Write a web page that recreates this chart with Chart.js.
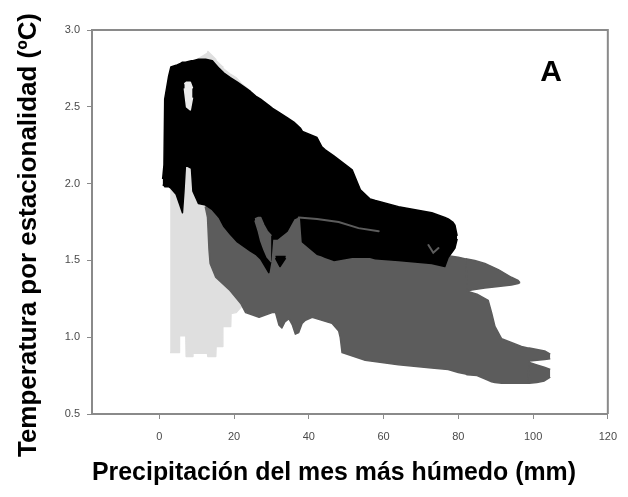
<!DOCTYPE html>
<html>
<head>
<meta charset="utf-8">
<script src="https://cdn.jsdelivr.net/npm/chart.js@4.4.1/dist/chart.umd.min.js"></script>
<style>
  html, body { margin: 0; padding: 0; background: #fff; }
  canvas { display: block; }
</style>
</head>
<body>
<canvas id="c" width="628" height="497"></canvas>
<script>
// Axis ticks
const xTicks = [0, 20, 40, 60, 80, 100, 120];
const yTicks = [0.5, 1.0, 1.5, 2.0, 2.5, 3.0];

// Light gray cloud: outline as lower / upper envelope per precipitation value
const lightX      = [2.9, 5.3, 5.4, 7.1, 7.2, 8.9, 9.0, 12.9, 13.0, 15.1, 15.2, 16.9, 17.0, 19.1, 19.2, 20.5, 22.0, 24.0];
const lightTop    = [2.10, 2.35, 2.36, 2.70, 2.71, 2.78, 2.79, 2.85, 2.86, 2.81, 2.80, 2.76, 2.75, 2.71, 2.71, 2.69, 2.65, 2.61];
const lightBottom = [0.90, 0.90, 1.01, 1.01, 0.875, 0.875, 0.895, 0.895, 0.875, 0.875, 0.94, 0.94, 1.07, 1.07, 1.155, 1.16, 1.20, 1.30];

// Dark gray cloud (main body, upper and lower right lobes)
const darkX      = [12.3, 12.9, 13.3, 13.6, 15.1, 18.7, 21.8, 23.1, 26.7, 30.2, 31.1, 32.0, 32.8, 33.6, 34.7, 35.6, 36.4, 37.3, 38.2, 39.1, 40.9, 46.2, 48.0, 48.4, 48.9, 55.1, 64.0, 72.9, 77.3, 80.0, 82.0, 82.4, 85.0, 88.0, 88.9, 89.8, 91.6, 96.9, 98.6, 99.0, 103.1, 104.6];
const darkTop    = [1.86, 1.86, 1.86, 1.86, 1.85, 1.80, 1.78, 1.78, 1.80, 1.80, 1.80, 1.80, 1.80, 1.80, 1.80, 1.80, 1.80, 1.80, 1.80, 1.79, 1.78, 1.75, 1.74, 1.74, 1.74, 1.71, 1.65, 1.57, 1.53, 1.52, 1.51, 1.30, 1.28, 1.24, 1.16, 1.07, 0.99, 0.94, 0.93, 0.93, 0.91, 0.89];
const darkBottom = [1.85, 1.78, 1.57, 1.48, 1.39, 1.31, 1.22, 1.16, 1.13, 1.16, 1.16, 1.08, 1.06, 1.10, 1.12, 1.08, 1.02, 1.03, 1.09, 1.11, 1.13, 1.09, 1.04, 1.00, 0.90, 0.85, 0.82, 0.80, 0.79, 0.77, 0.76, 0.755, 0.75, 0.72, 0.71, 0.705, 0.70, 0.70, 0.70, 0.845, 0.855, 0.86];

const darkUpperX      = [82.0, 84.4, 87.1, 90.7, 94.2, 96.0, 96.5];
const darkUpperTop    = [1.51, 1.50, 1.48, 1.44, 1.39, 1.37, 1.355];
const darkUpperBottom = [1.30, 1.31, 1.32, 1.33, 1.34, 1.35, 1.355];

const darkLowerX      = [97.0, 99.0, 101.0, 103.0, 104.6];
const darkLowerTop    = [0.84, 0.835, 0.82, 0.805, 0.79];
const darkLowerBottom = [0.70, 0.70, 0.705, 0.715, 0.74];

// Black cloud
const blackX      = [0.9, 1.25, 1.45, 2.5, 3.1, 4.5, 5.5, 6.2, 6.6, 7.0, 8.6, 9.0, 10.5, 12.4, 14.2, 16.0, 17.3, 19.0, 20.9, 24.4, 25.8, 27.1, 29.3, 29.8, 30.3, 31.6, 34.2, 36.0, 37.8, 38.3, 42.2, 43.5, 44.4, 46.7, 51.6, 53.8, 56.4, 57.8, 64.0, 72.9, 76.4, 77.3, 78.5, 79.1, 79.7];
const blackTop    = [2.03, 2.12, 2.55, 2.70, 2.76, 2.77, 2.78, 2.79, 2.79, 2.79, 2.80, 2.80, 2.81, 2.81, 2.80, 2.75, 2.72, 2.69, 2.66, 2.60, 2.57, 2.55, 2.51, 2.50, 2.49, 2.47, 2.43, 2.40, 2.36, 2.34, 2.30, 2.24, 2.22, 2.18, 2.09, 1.96, 1.90, 1.89, 1.85, 1.81, 1.78, 1.77, 1.75, 1.73, 1.66];
const blackBottom = [1.99, 1.99, 1.98, 1.98, 1.97, 1.93, 1.86, 1.81, 1.95, 2.12, 2.10, 1.95, 1.87, 1.86, 1.83, 1.78, 1.72, 1.67, 1.62, 1.56, 1.54, 1.51, 1.42, 1.49, 1.64, 1.64, 1.69, 1.77, 1.79, 1.62, 1.54, 1.53, 1.52, 1.50, 1.52, 1.52, 1.52, 1.51, 1.50, 1.48, 1.46, 1.52, 1.56, 1.58, 1.64];

// Black fleck inside the dark gray cloud
const fleckX      = [31.1, 32.3, 33.8];
const fleckTop    = [1.525, 1.525, 1.525];
const fleckBottom = [1.515, 1.46, 1.515];

// Opening in the black cloud where the light gray shows through
const gapX      = [6.7, 7.3, 8.3, 8.9];
const gapTop    = [2.65, 2.66, 2.66, 2.62];
const gapBottom = [2.62, 2.50, 2.48, 2.56];

// Dark gray pocket cut into the black cloud
const pocketX      = [25.6, 26.5, 27.1, 28.0, 28.9, 30.0];
const pocketTop    = [1.77, 1.78, 1.78, 1.73, 1.69, 1.66];
const pocketBottom = [1.76, 1.69, 1.63, 1.57, 1.52, 1.49];

// Thin dark gray seams across the black cloud
const seamX = [37.3, 42.2, 48.0, 53.3, 58.7];
const seamY = [1.78, 1.77, 1.75, 1.71, 1.69];
const nickX = [72.0, 73.3, 74.7];
const nickY = [1.60, 1.55, 1.58];

const LIGHT = '#dfdfdf';
const DARK = '#5c5c5c';
const BLACK = '#000000';
const AXIS = '#8a8a8a';

function pts(xs, ys) {
  return xs.map((x, i) => ({ x: x, y: ys[i] }));
}

// Two line datasets per region: lower edge, then upper edge filled down to it
function band(xs, top, bottom, color, order) {
  const common = {
    borderColor: color,
    backgroundColor: color,
    borderWidth: 1.5,
    borderJoinStyle: 'round',
    pointRadius: 0,
    tension: 0,
    order: order
  };
  return [
    Object.assign({ data: pts(xs, bottom), fill: false }, common),
    Object.assign({ data: pts(xs, top), fill: '-1' }, common)
  ];
}

function seam(xs, ys, color, width, order) {
  return {
    data: pts(xs, ys),
    borderColor: color,
    borderWidth: width,
    pointRadius: 0,
    fill: false,
    tension: 0,
    borderCapStyle: 'round',
    order: order
  };
}

const datasets = [].concat(
  band(lightX, lightTop, lightBottom, LIGHT, 50),
  band(darkX, darkTop, darkBottom, DARK, 40),
  band(darkUpperX, darkUpperTop, darkUpperBottom, DARK, 40),
  band(darkLowerX, darkLowerTop, darkLowerBottom, DARK, 40),
  band(blackX, blackTop, blackBottom, BLACK, 30),
  band(fleckX, fleckTop, fleckBottom, BLACK, 30),
  band(gapX, gapTop, gapBottom, '#ececec', 20),
  band(pocketX, pocketTop, pocketBottom, DARK, 20),
  [seam(seamX, seamY, DARK, 2, 10), seam(nickX, nickY, DARK, 2, 10)]
);

function stretchedText(ctx, text, width) {
  const w = ctx.measureText(text).width;
  ctx.scale(width / w, 1);
  ctx.fillText(text, 0, 0);
}

const decorations = {
  id: 'decorations',
  afterDraw(chart) {
    const ctx = chart.ctx;
    const a = chart.chartArea;
    ctx.save();
    // closing frame on top and right
    ctx.strokeStyle = AXIS;
    ctx.lineWidth = 2;
    ctx.beginPath();
    ctx.moveTo(a.left, a.top);
    ctx.lineTo(a.right, a.top);
    ctx.lineTo(a.right, a.bottom);
    ctx.stroke();

    ctx.fillStyle = '#000';
    ctx.textAlign = 'center';
    ctx.textBaseline = 'alphabetic';

    // x axis title
    ctx.save();
    ctx.font = 'bold 25px "Liberation Sans", Arial, sans-serif';
    ctx.translate(334, 480);
    stretchedText(ctx, 'Precipitación del mes más húmedo (mm)', 484);
    ctx.restore();

    // y axis title
    ctx.save();
    ctx.font = 'bold 25px "Liberation Sans", Arial, sans-serif';
    ctx.translate(36, 235);
    ctx.rotate(-Math.PI / 2);
    stretchedText(ctx, 'Temperatura por estacionalidad (ºC)', 444);
    ctx.restore();

    // panel letter
    ctx.font = 'bold 30px "Liberation Sans", Arial, sans-serif';
    ctx.fillText('A', 551, 81);
    ctx.restore();
  }
};

const tickFont = { family: '"Liberation Sans", Arial, sans-serif', size: 11 };

new Chart(document.getElementById('c'), {
  type: 'line',
  data: { datasets: datasets },
  options: {
    responsive: false,
    animation: false,
    devicePixelRatio: 1,
    layout: { padding: { top: 30, right: 18, left: 0, bottom: 0 } },
    plugins: {
      legend: { display: false },
      tooltip: { enabled: false },
      filler: { propagate: false }
    },
    scales: {
      x: {
        type: 'linear',
        min: -18,
        max: 120,
        afterBuildTicks: s => { s.ticks = xTicks.map(v => ({ value: v })); },
        afterFit: s => { s.height = 83; },
        grid: { drawOnChartArea: false, drawTicks: true, tickLength: 5, color: AXIS, lineWidth: 1 },
        border: { color: AXIS, width: 2 },
        ticks: { color: '#4a4a4a', font: tickFont, padding: 11, maxRotation: 0, autoSkip: false }
      },
      y: {
        type: 'linear',
        min: 0.5,
        max: 3.0,
        afterBuildTicks: s => { s.ticks = yTicks.map(v => ({ value: v })); },
        afterFit: s => { s.width = 92; },
        grid: { drawOnChartArea: false, drawTicks: true, tickLength: 5, color: AXIS, lineWidth: 1 },
        border: { color: AXIS, width: 2 },
        ticks: { color: '#4a4a4a', font: tickFont, padding: 7, callback: v => Number(v).toFixed(1) }
      }
    }
  },
  plugins: [decorations]
});
</script>
</body>
</html>
